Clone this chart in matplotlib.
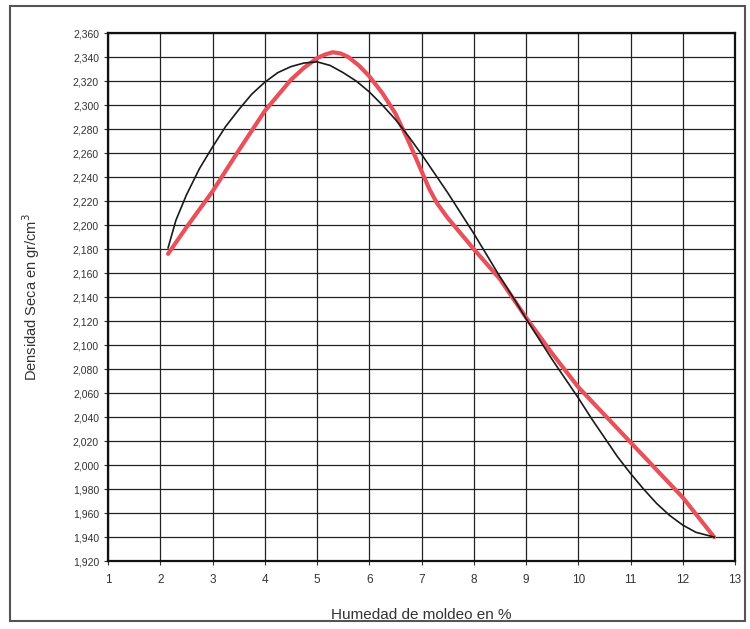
import numpy as np
import matplotlib.pyplot as plt
from matplotlib.ticker import FuncFormatter, MultipleLocator
from matplotlib.patches import Rectangle

plt.rcParams['font.family'] = ['Liberation Sans', 'DejaVu Sans']

# curva ajustada (negra)
hum_fit = [2.15, 2.3, 2.5, 2.75, 3.0, 3.25, 3.5, 3.75, 4.0, 4.25, 4.5, 4.75,
           5.0, 5.25, 5.5, 5.75, 6.0, 6.25, 6.5, 6.75, 7.0, 7.25, 7.5, 7.75,
           8.0, 8.25, 8.5, 8.75, 9.0, 9.25, 9.5, 9.75, 10.0, 10.25, 10.5,
           10.75, 11.0, 11.25, 11.5, 11.75, 12.0, 12.25, 12.6]
dens_fit = [2.181, 2.204, 2.225, 2.247, 2.265, 2.282, 2.296, 2.309, 2.319,
            2.327, 2.332, 2.335, 2.336, 2.333, 2.327, 2.320, 2.311, 2.300,
            2.288, 2.274, 2.259, 2.243, 2.227, 2.210, 2.193, 2.175, 2.157,
            2.140, 2.122, 2.105, 2.088, 2.072, 2.056, 2.039, 2.023, 2.007,
            1.993, 1.980, 1.968, 1.958, 1.950, 1.944, 1.940]

# curva de ensayo (roja)
hum_ens = [2.15, 2.5, 3.0, 3.5, 4.0, 4.5, 4.75, 5.0, 5.15, 5.3, 5.45, 5.6,
           5.8, 6.0, 6.25, 6.5, 6.75, 7.0, 7.15, 7.3, 7.5, 7.75, 8.0, 8.5,
           9.0, 9.5, 10.0, 10.5, 11.0, 11.5, 12.0, 12.6]
dens_ens = [2.176, 2.198, 2.228, 2.262, 2.295, 2.321, 2.331, 2.339, 2.342,
            2.344, 2.343, 2.340, 2.333, 2.324, 2.310, 2.293, 2.270, 2.245,
            2.230, 2.218, 2.206, 2.193, 2.180, 2.155, 2.123, 2.093, 2.065,
            2.042, 2.019, 1.996, 1.973, 1.940]

fig = plt.figure(figsize=(7.5, 6.29), dpi=100)
ax = fig.add_axes([0.144, 0.108, 0.836, 0.8395])

ax.plot(hum_ens, dens_ens, color='#e8505a', linewidth=3, solid_capstyle='round',
        solid_joinstyle='round', zorder=3)
ax.plot(hum_fit, dens_fit, color='#1a1a1a', linewidth=1.2, zorder=4)

ax.set_xlim(1, 13)
ax.set_ylim(1.92, 2.36)
ax.xaxis.set_major_locator(MultipleLocator(1))
ax.yaxis.set_major_locator(MultipleLocator(0.02))
ax.yaxis.set_major_formatter(FuncFormatter(lambda v, p: f'{v:.3f}'.replace('.', ',')))
ax.grid(True, color='#222222', linewidth=0.9)
ax.tick_params(axis='y', labelsize=7.5, colors='#333333', length=3, width=0.8)
ax.tick_params(axis='x', labelsize=8.5, colors='#333333', length=3, width=0.8, pad=6)
for s in ax.spines.values():
    s.set_linewidth(1.6)
    s.set_color('#111111')

ax.set_xlabel('Humedad de moldeo en %', fontsize=11, color='#333333', labelpad=16)
ax.set_ylabel('Densidad Seca en gr/cm$^3$', fontsize=10.5, color='#333333', labelpad=22)

fig.patches.append(Rectangle((0.013, 0.013), 0.98, 0.977, transform=fig.transFigure,
                             fill=False, edgecolor='#555555', linewidth=1.5))

fig.savefig('out.png', dpi=100)
